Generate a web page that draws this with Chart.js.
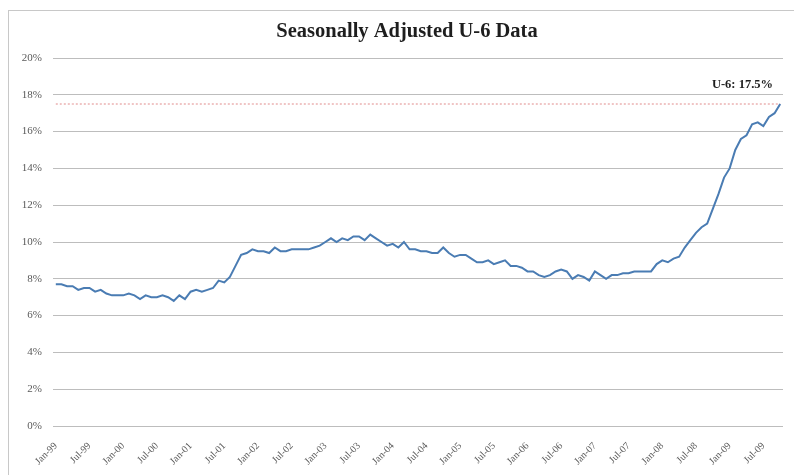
<!DOCTYPE html>
<html>
<head>
<meta charset="utf-8">
<script src="https://cdn.jsdelivr.net/npm/chart.js@4/dist/chart.umd.min.js"></script>
<style>
  html, body { margin: 0; padding: 0; background: #fff; }
  #wrap { position: relative; width: 794px; height: 475px; }
  #frame { position: absolute; left: 8px; top: 10px; right: -2px; bottom: -2px;
           border-left: 1px solid #c8c8c8; border-top: 1px solid #c8c8c8; pointer-events: none; }
  canvas { display: block; }
</style>
</head>
<body>
<div id="wrap">
  <canvas id="c" width="794" height="475"></canvas>
  <div id="frame"></div>
</div>
<script>
// Monthly U-6 rate (seasonally adjusted), Jan 1999 onward
const years = ['99','00','01','02','03','04','05','06','07','08','09'];
const monthNames = ['Jan','Feb','Mar','Apr','May','Jun','Jul','Aug','Sep','Oct','Nov','Dec'];

const u6_1999 = [7.7, 7.7, 7.6, 7.6, 7.4, 7.5, 7.5, 7.3, 7.4, 7.2, 7.1, 7.1];
const u6_2000 = [7.1, 7.2, 7.1, 6.9, 7.1, 7.0, 7.0, 7.1, 7.0, 6.8, 7.1, 6.9];
const u6_2001 = [7.3, 7.4, 7.3, 7.4, 7.5, 7.9, 7.8, 8.1, 8.7, 9.3, 9.4, 9.6];
const u6_2002 = [9.5, 9.5, 9.4, 9.7, 9.5, 9.5, 9.6, 9.6, 9.6, 9.6, 9.7, 9.8];
const u6_2003 = [10.0, 10.2, 10.0, 10.2, 10.1, 10.3, 10.3, 10.1, 10.4, 10.2, 10.0, 9.8];
const u6_2004 = [9.9, 9.7, 10.0, 9.6, 9.6, 9.5, 9.5, 9.4, 9.4, 9.7, 9.4, 9.2];
const u6_2005 = [9.3, 9.3, 9.1, 8.9, 8.9, 9.0, 8.8, 8.9, 9.0, 8.7, 8.7, 8.6];
const u6_2006 = [8.4, 8.4, 8.2, 8.1, 8.2, 8.4, 8.5, 8.4, 8.0, 8.2, 8.1, 7.9];
const u6_2007 = [8.4, 8.2, 8.0, 8.2, 8.2, 8.3, 8.3, 8.4, 8.4, 8.4, 8.4, 8.8];
const u6_2008 = [9.0, 8.9, 9.1, 9.2, 9.7, 10.1, 10.5, 10.8, 11.0, 11.8, 12.6, 13.5];
const u6_2009 = [14.0, 15.0, 15.6, 15.8, 16.4, 16.5, 16.3, 16.8, 17.0, 17.5];

const u6Values = [].concat(u6_1999, u6_2000, u6_2001, u6_2002, u6_2003, u6_2004,
                           u6_2005, u6_2006, u6_2007, u6_2008, u6_2009);

// Month categories, e.g. "Jan-99"
const categories = [];
years.forEach(y => monthNames.forEach(m => categories.push(m + '-' + y)));
categories.length = u6Values.length;

// Axis labels shown along the bottom
const tickLabels = ['Jan-99','Jul-99','Jan-00','Jul-00','Jan-01','Jul-01','Jan-02','Jul-02',
                    'Jan-03','Jul-03','Jan-04','Jul-04','Jan-05','Jul-05','Jan-06','Jul-06',
                    'Jan-07','Jul-07','Jan-08','Jul-08','Jan-09','Jul-09'];
const yTicks = [0, 2, 4, 6, 8, 10, 12, 14, 16, 18, 20];

const latest = u6Values[u6Values.length - 1];
const latestLine = categories.map(() => latest);

const serif = '"Liberation Serif", "Times New Roman", serif';

const overlay = {
  id: 'overlay',
  afterDraw(chart) {
    const ctx = chart.ctx;
    const y = chart.scales.y.getPixelForValue(latest);
    ctx.save();
    ctx.fillStyle = '#1e1e1e';
    ctx.font = 'bold 20.5px ' + serif;
    ctx.textAlign = 'center';
    ctx.textBaseline = 'middle';
    ctx.fillText('Seasonally Adjusted U-6 Data', 407, 32);
    ctx.font = 'bold 12.5px ' + serif;
    ctx.textAlign = 'right';
    ctx.textBaseline = 'middle';
    ctx.fillText('U-6: ' + latest.toFixed(1) + '%', 773, y - 19);
    ctx.restore();
  }
};

new Chart(document.getElementById('c'), {
  type: 'line',
  data: {
    labels: categories,
    datasets: [
      {
        data: u6Values,
        borderColor: '#4a7cb3',
        borderWidth: 2,
        pointRadius: 0,
        tension: 0,
        order: 0
      },
      {
        data: latestLine,
        borderColor: '#e08a8a',
        borderWidth: 1,
        borderDash: [2, 2],
        pointRadius: 0,
        order: 1
      }
    ]
  },
  options: {
    responsive: false,
    animation: false,
    events: [],
    layout: { padding: { left: 0, right: 11, top: 58, bottom: 0 } },
    plugins: { legend: { display: false }, tooltip: { enabled: false }, title: { display: false } },
    scales: {
      x: {
        type: 'category',
        offset: true,
        grid: { display: false, drawTicks: false },
        border: { display: false },
        afterFit(scale) { scale.height = 49; },
        ticks: {
          autoSkip: false,
          minRotation: 45,
          maxRotation: 45,
          padding: 14,
          color: '#5a5a5a',
          font: { family: serif, size: 10 },
          callback(value, index) {
            const lab = categories[index];
            return tickLabels.includes(lab) ? lab : null;
          }
        }
      },
      y: {
        min: 0,
        max: 20,
        afterFit(scale) { scale.width = 53; },
        afterBuildTicks(scale) { scale.ticks = yTicks.map(v => ({ value: v })); },
        grid: { color: '#bdbdbd', lineWidth: 1, drawTicks: false },
        border: { display: false },
        ticks: {
          padding: 11,
          color: '#5a5a5a',
          font: { family: serif, size: 11 },
          callback(v) { return v + '%'; }
        }
      }
    }
  },
  plugins: [overlay]
});
</script>
</body>
</html>
